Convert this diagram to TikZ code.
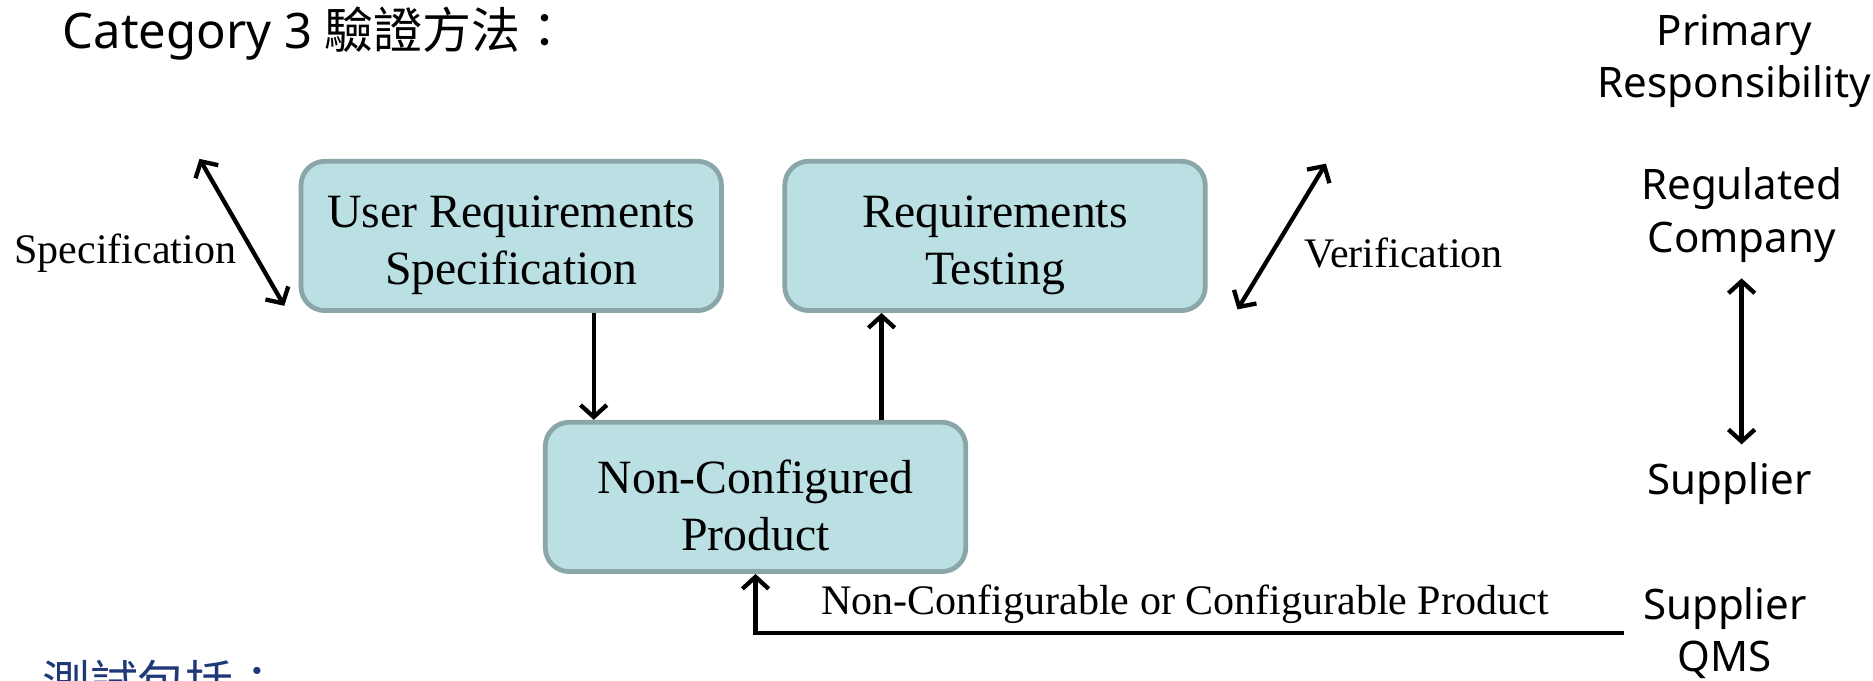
\documentclass[tikz,border=0pt]{standalone}
\usepackage{fontspec}
\setmainfont{Liberation Serif}
\newfontfamily\uifont{Noto Sans}
\newfontfamily\cjk{Noto Sans CJK TC}
\usetikzlibrary{arrows.meta,positioning}
\definecolor{boxfill}{RGB}{187,224,227}
\definecolor{boxline}{RGB}{138,166,168}
\definecolor{navy}{RGB}{31,56,120}
\newcommand{\topgap}{\rule{0pt}{21pt}}

\begin{document}
\begin{tikzpicture}[x=0.5pt,y=-0.5pt]
\tikzstyle{every node}+=[inner sep=0pt]
\tikzstyle{stage}=[draw=boxline,fill=boxfill,line width=2pt,rounded corners=10pt,minimum width=176pt,minimum height=62.5pt,align=center,font=\fontsize{20}{24}\selectfont]
\tikzstyle{note}=[font=\fontsize{17.6}{21}\selectfont]
\tikzstyle{role}=[align=center,font=\uifont\fontsize{17.6}{22}\selectfont]
\tikzstyle{flow}=[line width=1.8pt,-{Straight Barb[length=5pt,width=11pt]}]
\tikzstyle{twoway}=[line width=1.8pt,{Straight Barb[length=5pt,width=11pt]}-{Straight Barb[length=5pt,width=11pt]}]
\useasboundingbox (0,0) rectangle (1568,570);
\clip (0,0) rectangle (1568,570);
\node[anchor=base west,font=\fontsize{20.5}{24}\selectfont] (title) at (52,41) {{\uifont Category 3 }{\cjk 驗證方法：}};
\node[stage] (urs) at (428,197.5) {\topgap User Requirements\\Specification};
\node[stage] (rt) at (833,197.5) {\topgap Requirements\\Testing};
\node[stage] (ncp) at (632.5,416) {\topgap Non-Configured\\Product};
\node[note] (spec) at (105,212) {Specification};
\node[note] (ver) at (1175,212) {Verification};
\coordinate (spectop) at (167,133);
\coordinate (specbot) at (238,256);
\coordinate (vertop) at (1110,137);
\coordinate (verbot) at (1036,259);
\draw[twoway] (spectop) -- (specbot);
\draw[twoway] (vertop) -- (verbot);
\draw[flow] (urs.south -| 497,0) -- (ncp.north -| 497,0);
\draw[flow] (ncp.north -| 738,0) -- (rt.south -| 738,0);
\node[role] (resp) at (1452,51) {Primary\\Responsibility};
\node[role] (reg) at (1458,180) {Regulated\\Company};
\node[role] (sup) at (1448,405) {Supplier};
\node[role] (sqms) at (1444,530) {Supplier\\QMS};
\draw[twoway] (reg.south |- 0,233) -- (reg.south |- 0,372);
\draw[flow] ([xshift=-8pt]sqms.west) -| (ncp.south);
\node[note] (prodlabel) at (992,506) {Non-Configurable or Configurable Product};
\node[anchor=base west,text=navy,font=\cjk\fontsize{20}{24}\selectfont] (tests) at (35,586) {測試包括：};
\end{tikzpicture}
\end{document}
